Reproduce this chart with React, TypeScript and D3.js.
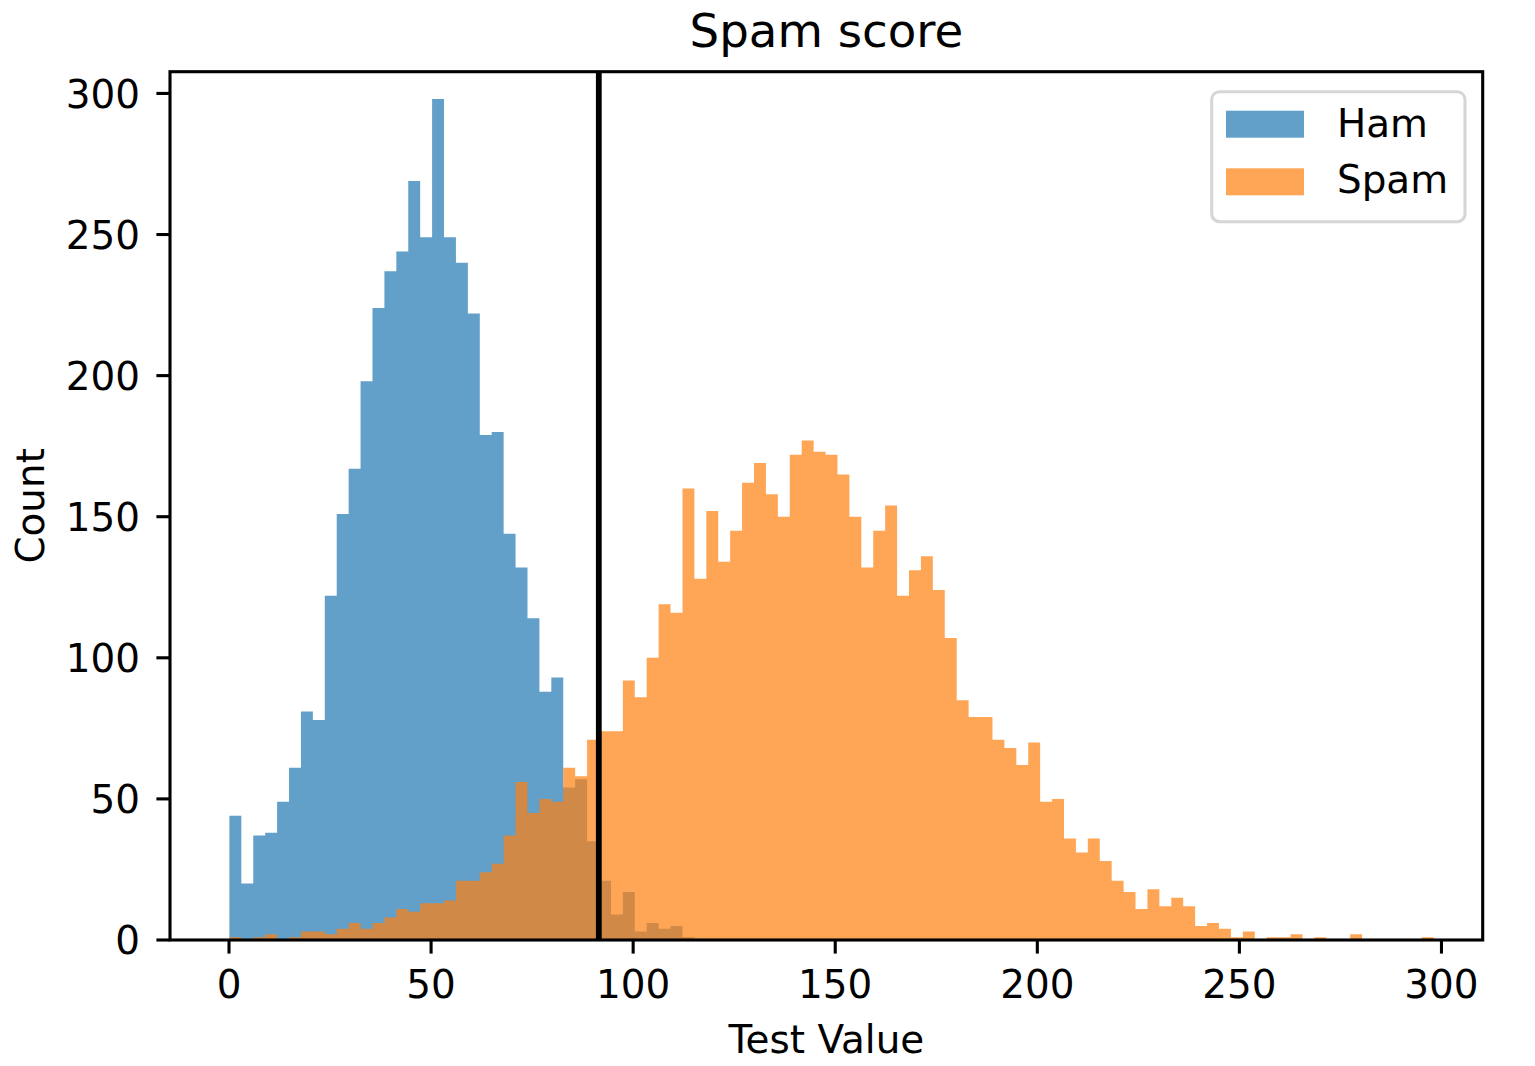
import React from "react";
import * as d3 from "d3";

// ---- Data ----
const hamCounts = [
  44, 20, 37, 38, 49, 61, 81, 78, 122, 151, 167, 198, 224, 237, 244, 269, 249, 298, 249, 240,
  222, 179, 180, 144, 132, 114, 88, 93, 54, 57, 35, 21, 9, 17, 3, 6, 4, 5, 1,
];
const spamCounts = [
  1, 0, 1, 2, 0, 1, 3, 3, 2, 4, 6, 4, 6, 8, 11, 10, 13, 13, 14, 21,
  21, 24, 27, 37, 56, 45, 50, 49, 61, 58, 71, 74, 74, 92, 86, 100, 119, 116, 160, 128,
  152, 134, 145, 162, 169, 158, 150, 172, 177, 173, 172, 165, 150, 132, 145, 154, 122, 131, 136, 124,
  107, 85, 79, 79, 71, 68, 62, 70, 49, 50, 36, 31, 36, 28, 21, 17, 11, 18, 12, 15,
  12, 5, 6, 4, 1, 3, 0, 1, 1, 2, 0, 1, 0, 0, 2, 0, 0, 0, 0, 0, 1,
];
const binStart = 0.1;
const binWidth = 2.95;
const threshold = 91.5;
const xTicks = [0, 50, 100, 150, 200, 250, 300];
const yTicks = [0, 50, 100, 150, 200, 250, 300];
const seriesNames = ["Ham", "Spam"];
const seriesColors = ["#1f77b4", "#ff7f0e"];
const titleText = "Spam score";
const xLabelText = "Test Value";
const yLabelText = "Count";
const xDomain = [-14.6, 310.2];
const yDomain = [0, 307.7];

const FONT = "'DejaVu Sans', sans-serif";

export default function App() {
  const W = 1535;
  const H = 1066;
  const left = 170;
  const right = 1482.7;
  const top = 71.7;
  const bottom = 940;

  const x = d3.scaleLinear().domain(xDomain).range([left, right]);
  const y = d3.scaleLinear().domain(yDomain).range([bottom, top]);

  const fs = 38.9;
  const lw = 3.1;
  const tickLen = 13.6;

  const series = [hamCounts, spamCounts];

  const stepPath = (counts: number[]) => {
    const p = d3.path();
    p.moveTo(x(binStart), y(0));
    counts.forEach((c, i) => {
      const x0 = x(binStart + i * binWidth);
      const x1 = x(binStart + (i + 1) * binWidth);
      p.lineTo(x0, y(c));
      p.lineTo(x1, y(c));
    });
    p.lineTo(x(binStart + counts.length * binWidth), y(0));
    p.closePath();
    return p.toString();
  };

  return (
    <svg
      width={W}
      height={H}
      viewBox={`0 0 ${W} ${H}`}
      style={{ position: "absolute", left: 0, top: 0, background: "#fff" }}
      fontFamily={FONT}
    >
      <rect x={0} y={0} width={W} height={H} fill="#fff" />
      {series.map((counts, si) => (
        <path key={si} d={stepPath(counts)} fill={seriesColors[si]} fillOpacity={0.7} />
      ))}

      {/* threshold line */}
      <line x1={x(threshold)} x2={x(threshold)} y1={top} y2={bottom} stroke="#000" strokeWidth={5.8} />

      {/* spines */}
      <rect x={left} y={top} width={right - left} height={bottom - top} fill="none" stroke="#000" strokeWidth={lw} />

      {/* x ticks */}
      {xTicks.map((t) => (
        <g key={"x" + t}>
          <line x1={x(t)} x2={x(t)} y1={bottom} y2={bottom + tickLen} stroke="#000" strokeWidth={lw} />
          <text x={x(t)} y={998.3} textAnchor="middle" fontSize={fs} fill="#000">
            {t}
          </text>
        </g>
      ))}

      {/* y ticks */}
      {yTicks.map((t) => (
        <g key={"y" + t}>
          <line x1={left - tickLen} x2={left} y1={y(t)} y2={y(t)} stroke="#000" strokeWidth={lw} />
          <text x={140} y={y(t) + 14.2} textAnchor="end" fontSize={fs} fill="#000">
            {t}
          </text>
        </g>
      ))}

      {/* title and axis labels */}
      <text x={(left + right) / 2} y={46.7} textAnchor="middle" fontSize={46.7} fill="#000">
        {titleText}
      </text>
      <text x={(left + right) / 2} y={1053.3} textAnchor="middle" fontSize={fs} fill="#000">
        {xLabelText}
      </text>
      <text
        transform={`translate(44,${(top + bottom) / 2}) rotate(-90)`}
        textAnchor="middle"
        fontSize={fs}
        fill="#000"
      >
        {yLabelText}
      </text>

      {/* legend */}
      <g>
        <rect
          x={1211.7}
          y={91.7}
          width={253.3}
          height={130}
          rx={7.8}
          fill="#fff"
          fillOpacity={0.8}
          stroke="#cccccc"
          strokeOpacity={0.8}
          strokeWidth={lw}
        />
        {seriesNames.map((name, i) => (
          <g key={name}>
            <rect
              x={1226}
              y={110.7 + i * 57.6}
              width={78}
              height={27}
              fill={seriesColors[i]}
              fillOpacity={0.7}
            />
            <text x={1337} y={136.7 + i * 56.6} fontSize={fs} fill="#000">
              {name}
            </text>
          </g>
        ))}
      </g>
    </svg>
  );
}
